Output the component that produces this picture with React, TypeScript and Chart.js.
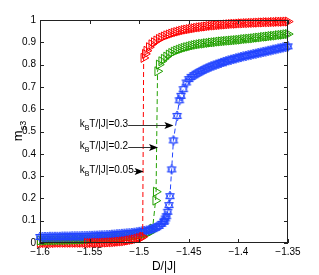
import React, { useEffect, useRef } from "react";
import { Chart, registerables } from "chart.js";

Chart.register(...registerables);

// ---- data ----
// kBT/|J| = 0.05 (red), left low part (partly hidden under the other curves)
const redLeftD = [-1.6,-1.5975,-1.595,-1.5925,-1.59,-1.5875,-1.585,-1.5825,-1.58,-1.5775,-1.575,-1.5725,-1.57,-1.5675,-1.565,-1.5625,-1.56,-1.5575,-1.555];
const redLeftM = [0.0,0.0,0.0,0.0,0.0,0.0,0.0,0.001,0.001,0.001,0.001,0.001,0.001,0.001,0.001,0.001,0.001,0.001,0.001];
// kBT/|J| = 0.05 (red), rest
const redD = [
  -1.5525,-1.55,-1.5475,-1.545,-1.5425,-1.54,-1.5375,-1.535,-1.5325,-1.53,-1.5275,-1.525,-1.5225,-1.52,-1.5175,-1.515,-1.5125,-1.51,-1.5075,-1.505,-1.5025,-1.5,-1.4975,-1.4965,
  -1.4955,-1.494,-1.4925,-1.49,-1.4875,-1.485,-1.4825,-1.48,-1.4775,-1.475,-1.4725,-1.47,-1.4675,-1.465,-1.4625,-1.46,-1.4575,-1.455,-1.4525,-1.45,
  -1.4475,-1.445,-1.4425,-1.44,-1.4375,-1.435,-1.4325,-1.43,-1.4275,-1.425,-1.4225,-1.42,-1.4175,-1.415,-1.4125,-1.41,-1.4075,-1.405,-1.4025,-1.4,
  -1.3975,-1.395,-1.3925,-1.39,-1.3875,-1.385,-1.3825,-1.38,-1.3775,-1.375,-1.3725,-1.37,-1.3675,-1.365,-1.3625,-1.36,-1.3575,-1.355,-1.3525,-1.35,
];
const redM = [
  0.0,0.0,0.0,0.001,0.001,0.001,0.001,0.002,0.002,0.003,0.003,0.004,0.005,0.006,0.007,0.008,0.01,0.012,0.014,0.016,0.019,0.022,0.025,0.028,
  0.83,0.848,0.862,0.878,0.891,0.9,0.908,0.915,0.921,0.926,0.931,0.935,0.939,0.943,0.946,0.949,0.952,0.955,0.957,0.959,
  0.961,0.963,0.965,0.967,0.968,0.97,0.971,0.973,0.974,0.975,0.976,0.977,0.978,0.979,0.98,0.981,0.982,0.983,0.983,0.984,
  0.985,0.985,0.986,0.986,0.987,0.987,0.988,0.988,0.989,0.989,0.99,0.99,0.99,0.991,0.991,0.992,0.992,0.992,0.993,0.993,
];

// kBT/|J| = 0.2 (green)
const greenD = [
  -1.6,-1.5975,-1.595,-1.5925,-1.59,-1.5875,-1.585,-1.5825,-1.58,-1.5775,-1.575,-1.5725,-1.57,-1.5675,-1.565,-1.5625,-1.56,-1.5575,-1.555,-1.5525,
  -1.55,-1.5475,-1.545,-1.5425,-1.54,-1.5375,-1.535,-1.5325,-1.53,-1.5275,-1.525,-1.5225,-1.52,-1.5175,-1.515,-1.5125,-1.51,-1.5075,-1.505,-1.5025,
  -1.5,-1.4975,-1.495,-1.4925,-1.49,-1.4875,-1.4865,-1.4835,-1.483,-1.4815,-1.48,
  -1.4775,-1.475,-1.4725,-1.47,-1.4675,-1.465,-1.4625,-1.46,-1.4575,-1.455,-1.4525,-1.45,-1.4475,-1.445,-1.4425,
  -1.44,-1.4375,-1.435,-1.4325,-1.43,-1.4275,-1.425,-1.4225,-1.42,-1.4175,-1.415,-1.4125,-1.41,-1.4075,-1.405,-1.4025,
  -1.4,-1.3975,-1.395,-1.3925,-1.39,-1.3875,-1.385,-1.3825,-1.38,-1.3775,-1.375,-1.3725,-1.37,-1.3675,-1.365,-1.3625,-1.36,-1.3575,-1.355,-1.3525,-1.35,
];
const greenM = [
  0.011,0.011,0.011,0.012,0.012,0.012,0.012,0.013,0.013,0.013,0.013,0.014,0.014,0.014,0.015,0.015,0.015,0.016,0.016,0.016,
  0.017,0.017,0.018,0.018,0.019,0.019,0.02,0.021,0.021,0.022,0.023,0.024,0.025,0.026,0.027,0.028,0.029,0.031,0.032,0.034,
  0.036,0.038,0.04,0.043,0.047,0.053,0.065,0.19,0.23,0.77,0.80,
  0.815,0.826,0.836,0.845,0.852,0.858,0.863,0.867,0.871,0.875,0.878,0.881,0.884,0.887,0.889,
  0.891,0.893,0.894,0.896,0.897,0.899,0.9,0.901,0.903,0.904,0.905,0.906,0.907,0.908,0.909,0.91,
  0.911,0.912,0.914,0.915,0.916,0.917,0.918,0.92,0.921,0.922,0.924,0.925,0.926,0.928,0.929,0.93,0.932,0.933,0.934,0.936,0.937,
];

// kBT/|J| = 0.3 (blue)
const blueD = [
  -1.6,-1.5975,-1.595,-1.5925,-1.59,-1.5875,-1.585,-1.5825,-1.58,-1.5775,-1.575,-1.5725,-1.57,-1.5675,-1.565,-1.5625,-1.56,-1.5575,-1.555,-1.5525,
  -1.55,-1.5475,-1.545,-1.5425,-1.54,-1.5375,-1.535,-1.5325,-1.53,-1.5275,-1.525,-1.5225,-1.52,-1.5175,-1.515,-1.5125,-1.51,-1.5075,-1.505,-1.5025,
  -1.5,-1.4975,-1.495,-1.4925,-1.49,-1.4875,-1.485,-1.4825,-1.48,-1.4775,-1.475,
  -1.4745,-1.4735,-1.4725,-1.4713,-1.47,-1.469,-1.4673,-1.4655,-1.4618,-1.4595,-1.4578,-1.4555,-1.4525,-1.45,
  -1.4475,-1.445,-1.4425,-1.44,-1.4375,-1.435,-1.4325,-1.43,-1.4275,-1.425,-1.4225,-1.42,-1.4175,-1.415,-1.4125,-1.41,-1.4075,-1.405,-1.4025,-1.4,
  -1.3975,-1.395,-1.3925,-1.39,-1.3875,-1.385,-1.3825,-1.38,-1.3775,-1.375,-1.3725,-1.37,-1.3675,-1.365,-1.3625,-1.36,-1.3575,-1.355,-1.3525,-1.35,
];
const blueM = [
  0.027,0.027,0.027,0.027,0.028,0.028,0.028,0.028,0.028,0.029,0.029,0.029,0.029,0.03,0.03,0.03,0.03,0.031,0.031,0.031,
  0.032,0.032,0.033,0.033,0.034,0.034,0.035,0.035,0.036,0.037,0.038,0.039,0.04,0.041,0.042,0.043,0.044,0.045,0.046,0.048,
  0.05,0.052,0.054,0.056,0.059,0.062,0.066,0.071,0.077,0.086,0.095,
  0.1,0.11,0.12,0.14,0.17,0.21,0.33,0.46,0.57,0.64,0.66,0.69,0.72,0.735,
  0.745,0.752,0.759,0.765,0.771,0.777,0.782,0.787,0.792,0.796,0.8,0.804,0.808,0.812,0.815,0.819,0.822,0.825,0.828,0.831,
  0.834,0.837,0.839,0.842,0.844,0.847,0.849,0.852,0.854,0.857,0.859,0.862,0.864,0.867,0.869,0.872,0.874,0.877,0.879,0.882,
];

const xTickVals = [-1.6, -1.55, -1.5, -1.45, -1.4, -1.35];
const xTickLabels = ["\u22121.6", "\u22121.55", "\u22121.5", "\u22121.45", "\u22121.4", "\u22121.35"];
const yTickVals = [0, 0.1, 0.2, 0.3, 0.4, 0.5, 0.6, 0.7, 0.8, 0.9, 1];
const yTickLabels = ["0", "0.1", "0.2", "0.3", "0.4", "0.5", "0.6", "0.7", "0.8", "0.9", "1"];

const annotValues = ["0.3", "0.2", "0.05"];
const annotY = [0.529, 0.429, 0.324];
const annotTextD = [-1.56, -1.56, -1.56];
const annotTipD = [-1.4655, -1.481, -1.4955];

const FONT = "'Liberation Sans', Arial, Helvetica, sans-serif";
const RED = "#ff0000";
const GREEN = "#22a000";
const BLUE = "#2244ff";

function makeHexagram(color: string): HTMLCanvasElement {
  const c = document.createElement("canvas");
  c.width = 12;
  c.height = 12;
  const g = c.getContext("2d")!;
  g.strokeStyle = color;
  g.lineWidth = 1;
  const cx = 6, cy = 6, r = 5;
  for (const off of [-90, 90]) {
    g.beginPath();
    for (let k = 0; k < 3; k++) {
      const a = ((off + k * 120) * Math.PI) / 180;
      const x = cx + r * Math.cos(a);
      const y = cy + r * Math.sin(a);
      if (k === 0) g.moveTo(x, y);
      else g.lineTo(x, y);
    }
    g.closePath();
    g.stroke();
  }
  return c;
}

export default function App() {
  const ref = useRef<HTMLCanvasElement | null>(null);

  useEffect(() => {
    if (!ref.current) return;
    const hex = makeHexagram(BLUE);

    const framePlugin = {
      id: "frame",
      afterDraw(chart: any) {
        const { ctx, chartArea: a, scales } = chart;
        const xs = scales.x, ys = scales.y;
        ctx.save();
        ctx.strokeStyle = "#222";
        ctx.lineWidth = 1;
        ctx.setLineDash([]);
        ctx.strokeRect(a.left + 0.5, a.top + 0.5, a.right - a.left - 1, a.bottom - a.top - 1);
        ctx.beginPath();
        const tl = 4;
        xTickVals.forEach((v) => {
          const px = Math.round(xs.getPixelForValue(v)) + 0.5;
          ctx.moveTo(px, a.bottom);
          ctx.lineTo(px, a.bottom - tl);
          ctx.moveTo(px, a.top);
          ctx.lineTo(px, a.top + tl);
        });
        yTickVals.forEach((v) => {
          const py = Math.round(ys.getPixelForValue(v)) + 0.5;
          ctx.moveTo(a.left, py);
          ctx.lineTo(a.left + tl, py);
          ctx.moveTo(a.right, py);
          ctx.lineTo(a.right - tl, py);
        });
        ctx.stroke();

        // annotations
        annotValues.forEach((val, i) => {
          const x0 = xs.getPixelForValue(annotTextD[i]);
          const y0 = Math.round(ys.getPixelForValue(annotY[i])) + 0.5;
          ctx.fillStyle = "#000";
          ctx.textBaseline = "middle";
          ctx.textAlign = "left";
          ctx.font = `10px ${FONT}`;
          let x = x0;
          ctx.fillText("k", x, y0 - 1);
          x += ctx.measureText("k").width;
          ctx.font = `7px ${FONT}`;
          ctx.fillText("B", x, y0 + 3);
          x += ctx.measureText("B").width;
          ctx.font = `10px ${FONT}`;
          const rest = "T/|J|=" + val;
          ctx.fillText(rest, x, y0 - 1);
          x += ctx.measureText(rest).width;
          const tip = xs.getPixelForValue(annotTipD[i]);
          ctx.strokeStyle = "#333";
          ctx.beginPath();
          ctx.moveTo(x, y0);
          ctx.lineTo(tip - 6, y0);
          ctx.stroke();
          ctx.fillStyle = "#000";
          ctx.beginPath();
          ctx.moveTo(tip, y0);
          ctx.lineTo(tip - 9, y0 - 3.5);
          ctx.lineTo(tip - 7, y0);
          ctx.lineTo(tip - 9, y0 + 3.5);
          ctx.closePath();
          ctx.fill();
        });

        // axis titles
        ctx.fillStyle = "#000";
        ctx.textBaseline = "alphabetic";
        ctx.font = `12px ${FONT}`;
        ctx.textAlign = "center";
        ctx.fillText("D/|J|", (a.left + a.right) / 2, 270);

        ctx.save();
        ctx.translate(22, 131);
        ctx.rotate(-Math.PI / 2);
        ctx.textAlign = "left";
        ctx.font = `13px ${FONT}`;
        const mw = ctx.measureText("m").width;
        ctx.font = `9px ${FONT}`;
        const sw = ctx.measureText("s3").width;
        const start = -(mw + sw) / 2;
        ctx.font = `13px ${FONT}`;
        ctx.fillText("m", start, 0);
        ctx.font = `9px ${FONT}`;
        ctx.fillText("s3", start + mw, 4);
        ctx.restore();
        ctx.restore();
      },
    };

    const mk = (d: number[], m: number[]) => d.map((x, i) => ({ x, y: m[i] }));
    const tri = (color: string) => ({
      borderColor: color,
      backgroundColor: "transparent",
      borderWidth: 1,
      borderDash: [5, 3],
      pointStyle: "triangle" as const,
      pointRotation: 90,
      pointRadius: 5.2,
      pointBorderWidth: 1,
      pointBorderColor: color,
      pointBackgroundColor: "transparent",
      clip: false as any,
    });

    const chart = new Chart(ref.current, {
      type: "line",
      data: {
        datasets: [
          { label: "kBT/|J|=0.05", data: mk(redD, redM), ...tri(RED), order: 0 },
          {
            label: "kBT/|J|=0.3",
            data: mk(blueD, blueM),
            borderColor: BLUE,
            backgroundColor: "transparent",
            borderWidth: 1,
            borderDash: [5, 3],
            pointStyle: hex as any,
            pointRadius: 5,
            pointBorderColor: BLUE,
            pointBackgroundColor: "transparent",
            clip: false as any,
            order: 1,
          },
          { label: "kBT/|J|=0.2", data: mk(greenD, greenM), ...tri(GREEN), order: 3 },
          { label: "kBT/|J|=0.05 (low)", data: mk(redLeftD, redLeftM), ...tri(RED), order: 4 },
        ],
      },
      options: {
        animation: false,
        responsive: false,
        events: [],
        layout: { padding: { left: 0, top: 20, right: 31, bottom: 0 } },
        plugins: { legend: { display: false }, tooltip: { enabled: false } },
        scales: {
          x: {
            type: "linear",
            min: -1.6,
            max: -1.35,
            afterBuildTicks: (s: any) => {
              s.ticks = xTickVals.map((v) => ({ value: v }));
            },
            afterFit: (s: any) => {
              s.height = 32;
            },
            grid: { display: true, drawOnChartArea: false, drawTicks: false, color: "transparent" },
            border: { display: false },
            ticks: {
              autoSkip: false,
              maxRotation: 0,
              padding: 3,
              color: "#000",
              font: { family: FONT, size: 10 },
              callback: (_v: any, i: number) => xTickLabels[i],
            },
          },
          y: {
            type: "linear",
            min: 0,
            max: 1,
            afterBuildTicks: (s: any) => {
              s.ticks = yTickVals.map((v) => ({ value: v }));
            },
            afterFit: (s: any) => {
              s.width = 40;
            },
            grid: { display: true, drawOnChartArea: false, drawTicks: false, color: "transparent" },
            border: { display: false },
            ticks: {
              autoSkip: false,
              padding: 4,
              color: "#000",
              font: { family: FONT, size: 10 },
              callback: (_v: any, i: number) => yTickLabels[i],
            },
          },
        },
      },
      plugins: [framePlugin],
    });
    return () => chart.destroy();
  }, []);

  return (
    <div style={{ position: "fixed", left: 0, top: 0, width: 319, height: 275, background: "#fff" }}>
      <canvas ref={ref} width={319} height={275} />
    </div>
  );
}
